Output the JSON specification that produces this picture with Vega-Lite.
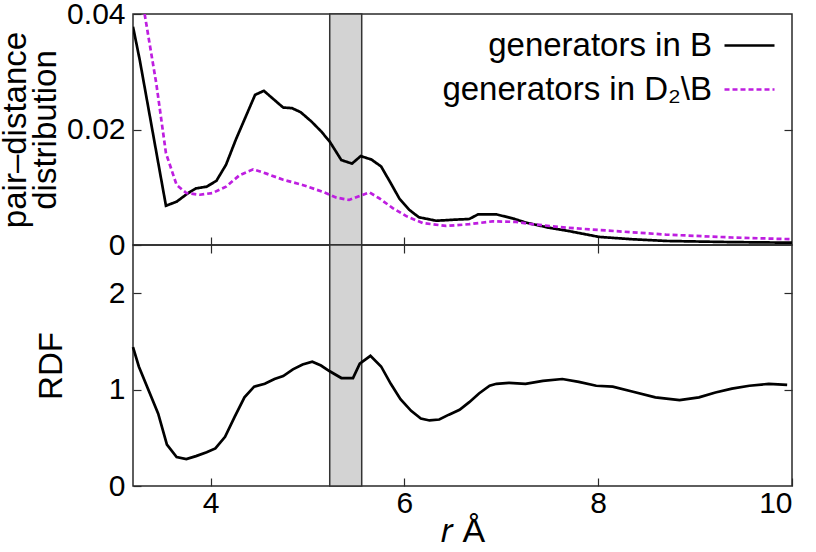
{
  "$schema": "https://vega.github.io/schema/vega-lite/v6.json",
  "padding": {"left": -2, "top": -2, "right": 10, "bottom": 0},
  "background": "white",
  "spacing": 0,
  "bounds": "flush",
  "config": {
    "font": "Liberation Sans",
    "view": {"stroke": "#2a2a2a", "strokeWidth": 1.5},
    "axis": {"grid": false, "domain": false, "tickColor": "#2a2a2a", "tickWidth": 1.2, "labelColor": "black", "titleColor": "black", "labelFontWeight": "normal", "titleFontWeight": "normal"}
  },
  "datasets": {
    "band": [{"r0": 5.23, "r1": 5.56}],
    "pdd": [
      {"r": 3.2, "value": 0.0378, "series": "generators in B"},
      {"r": 3.27, "value": 0.032, "series": "generators in B"},
      {"r": 3.54, "value": 0.0068, "series": "generators in B"},
      {"r": 3.65, "value": 0.0075, "series": "generators in B"},
      {"r": 3.77, "value": 0.0090, "series": "generators in B"},
      {"r": 3.85, "value": 0.0098, "series": "generators in B"},
      {"r": 3.96, "value": 0.0101, "series": "generators in B"},
      {"r": 4.06, "value": 0.0111, "series": "generators in B"},
      {"r": 4.16, "value": 0.0139, "series": "generators in B"},
      {"r": 4.26, "value": 0.0182, "series": "generators in B"},
      {"r": 4.37, "value": 0.0225, "series": "generators in B"},
      {"r": 4.46, "value": 0.0260, "series": "generators in B"},
      {"r": 4.55, "value": 0.0267, "series": "generators in B"},
      {"r": 4.66, "value": 0.0251, "series": "generators in B"},
      {"r": 4.75, "value": 0.0238, "series": "generators in B"},
      {"r": 4.84, "value": 0.0237, "series": "generators in B"},
      {"r": 4.93, "value": 0.0230, "series": "generators in B"},
      {"r": 5.04, "value": 0.0214, "series": "generators in B"},
      {"r": 5.14, "value": 0.0197, "series": "generators in B"},
      {"r": 5.23, "value": 0.0179, "series": "generators in B"},
      {"r": 5.35, "value": 0.0147, "series": "generators in B"},
      {"r": 5.46, "value": 0.0141, "series": "generators in B"},
      {"r": 5.55, "value": 0.0154, "series": "generators in B"},
      {"r": 5.66, "value": 0.0148, "series": "generators in B"},
      {"r": 5.76, "value": 0.0136, "series": "generators in B"},
      {"r": 5.86, "value": 0.0107, "series": "generators in B"},
      {"r": 5.95, "value": 0.0080, "series": "generators in B"},
      {"r": 6.05, "value": 0.0061, "series": "generators in B"},
      {"r": 6.15, "value": 0.0048, "series": "generators in B"},
      {"r": 6.33, "value": 0.0042, "series": "generators in B"},
      {"r": 6.53, "value": 0.0044, "series": "generators in B"},
      {"r": 6.67, "value": 0.0045, "series": "generators in B"},
      {"r": 6.76, "value": 0.0053, "series": "generators in B"},
      {"r": 6.95, "value": 0.0053, "series": "generators in B"},
      {"r": 7.12, "value": 0.0046, "series": "generators in B"},
      {"r": 7.25, "value": 0.0039, "series": "generators in B"},
      {"r": 7.49, "value": 0.0030, "series": "generators in B"},
      {"r": 7.70, "value": 0.0024, "series": "generators in B"},
      {"r": 8.01, "value": 0.0014, "series": "generators in B"},
      {"r": 8.35, "value": 0.0010, "series": "generators in B"},
      {"r": 8.70, "value": 0.0007, "series": "generators in B"},
      {"r": 9.04, "value": 0.0006, "series": "generators in B"},
      {"r": 9.38, "value": 0.0005, "series": "generators in B"},
      {"r": 10.0, "value": 0.0004, "series": "generators in B"},
      {"r": 3.32, "value": 0.040, "series": "generators in D₂\\B"},
      {"r": 3.44, "value": 0.0280, "series": "generators in D₂\\B"},
      {"r": 3.54, "value": 0.0159, "series": "generators in D₂\\B"},
      {"r": 3.65, "value": 0.0104, "series": "generators in D₂\\B"},
      {"r": 3.75, "value": 0.0090, "series": "generators in D₂\\B"},
      {"r": 3.89, "value": 0.0087, "series": "generators in D₂\\B"},
      {"r": 4.02, "value": 0.0090, "series": "generators in D₂\\B"},
      {"r": 4.16, "value": 0.0101, "series": "generators in D₂\\B"},
      {"r": 4.30, "value": 0.0121, "series": "generators in D₂\\B"},
      {"r": 4.44, "value": 0.0131, "series": "generators in D₂\\B"},
      {"r": 4.57, "value": 0.0124, "series": "generators in D₂\\B"},
      {"r": 4.75, "value": 0.0113, "series": "generators in D₂\\B"},
      {"r": 4.95, "value": 0.0104, "series": "generators in D₂\\B"},
      {"r": 5.16, "value": 0.0092, "series": "generators in D₂\\B"},
      {"r": 5.30, "value": 0.0082, "series": "generators in D₂\\B"},
      {"r": 5.43, "value": 0.0078, "series": "generators in D₂\\B"},
      {"r": 5.54, "value": 0.0085, "series": "generators in D₂\\B"},
      {"r": 5.64, "value": 0.0091, "series": "generators in D₂\\B"},
      {"r": 5.74, "value": 0.0081, "series": "generators in D₂\\B"},
      {"r": 5.88, "value": 0.0064, "series": "generators in D₂\\B"},
      {"r": 6.02, "value": 0.0050, "series": "generators in D₂\\B"},
      {"r": 6.19, "value": 0.0038, "series": "generators in D₂\\B"},
      {"r": 6.43, "value": 0.0033, "series": "generators in D₂\\B"},
      {"r": 6.67, "value": 0.0036, "series": "generators in D₂\\B"},
      {"r": 6.91, "value": 0.0041, "series": "generators in D₂\\B"},
      {"r": 7.15, "value": 0.0040, "series": "generators in D₂\\B"},
      {"r": 7.32, "value": 0.0036, "series": "generators in D₂\\B"},
      {"r": 7.67, "value": 0.0030, "series": "generators in D₂\\B"},
      {"r": 8.01, "value": 0.0026, "series": "generators in D₂\\B"},
      {"r": 8.70, "value": 0.0018, "series": "generators in D₂\\B"},
      {"r": 9.38, "value": 0.0013, "series": "generators in D₂\\B"},
      {"r": 10.0, "value": 0.0010, "series": "generators in D₂\\B"}
    ],
    "rdf": [
      {"r": 3.2, "value": 1.44}, {"r": 3.26, "value": 1.24}, {"r": 3.46, "value": 0.75},
      {"r": 3.55, "value": 0.43}, {"r": 3.65, "value": 0.30}, {"r": 3.75, "value": 0.28},
      {"r": 3.85, "value": 0.31}, {"r": 3.96, "value": 0.35}, {"r": 4.05, "value": 0.39},
      {"r": 4.15, "value": 0.51}, {"r": 4.25, "value": 0.72}, {"r": 4.35, "value": 0.92},
      {"r": 4.45, "value": 1.03}, {"r": 4.56, "value": 1.06}, {"r": 4.66, "value": 1.11},
      {"r": 4.75, "value": 1.14}, {"r": 4.85, "value": 1.21}, {"r": 4.95, "value": 1.26},
      {"r": 5.05, "value": 1.29}, {"r": 5.14, "value": 1.25}, {"r": 5.23, "value": 1.19},
      {"r": 5.35, "value": 1.12}, {"r": 5.47, "value": 1.12}, {"r": 5.54, "value": 1.27},
      {"r": 5.65, "value": 1.35}, {"r": 5.76, "value": 1.24}, {"r": 5.86, "value": 1.06},
      {"r": 5.96, "value": 0.90}, {"r": 6.07, "value": 0.78}, {"r": 6.17, "value": 0.70},
      {"r": 6.26, "value": 0.68}, {"r": 6.36, "value": 0.69}, {"r": 6.46, "value": 0.74},
      {"r": 6.57, "value": 0.79}, {"r": 6.67, "value": 0.87}, {"r": 6.77, "value": 0.96},
      {"r": 6.88, "value": 1.04}, {"r": 6.95, "value": 1.06}, {"r": 7.08, "value": 1.07},
      {"r": 7.25, "value": 1.06}, {"r": 7.43, "value": 1.09}, {"r": 7.63, "value": 1.11},
      {"r": 7.80, "value": 1.08}, {"r": 7.98, "value": 1.04}, {"r": 8.15, "value": 1.03},
      {"r": 8.35, "value": 0.98}, {"r": 8.59, "value": 0.92}, {"r": 8.84, "value": 0.89},
      {"r": 9.04, "value": 0.92}, {"r": 9.21, "value": 0.97}, {"r": 9.38, "value": 1.01},
      {"r": 9.56, "value": 1.04}, {"r": 9.76, "value": 1.06}, {"r": 9.95, "value": 1.05}
    ]
  },
  "vconcat": [
    {
      "width": 659,
      "height": 231,
      "resolve": {"axis": {"y": "independent"}},
      "layer": [
        {
          "data": {"name": "band"},
          "mark": {"type": "rect", "fill": "#d3d3d3", "stroke": "#333333", "strokeWidth": 1.5},
          "encoding": {
            "x": {"field": "r0", "type": "quantitative", "scale": {"domain": [3.2, 10], "nice": false, "zero": false},
                  "axis": {"orient": "bottom", "values": [4, 6, 8], "labels": false, "tickSize": -8, "title": null}},
            "x2": {"field": "r1"}
          }
        },
        {
          "data": {"name": "pdd"},
          "mark": {"type": "line", "strokeWidth": 2.7, "clip": true},
          "encoding": {
            "x": {"field": "r", "type": "quantitative"},
            "y": {"field": "value", "type": "quantitative", "scale": {"domain": [0, 0.04], "nice": false},
                  "axis": {"orient": "left", "values": [0, 0.02, 0.04], "format": "~g", "tickSize": -8, "labelPadding": 16, "labelFontSize": 30,
                           "title": ["pair–distance", "distribution"], "titleFontSize": 33, "titleLineHeight": 30, "titlePadding": 4}},
            "color": {"field": "series", "type": "nominal",
                      "scale": {"domain": ["generators in B", "generators in D₂\\B"], "range": ["black", "#be1ee0"]},
                      "legend": {"orient": "none", "legendX": 590, "legendY": 5, "title": null, "padding": 0, "labelFontSize": 33, "labelAlign": "right", "labelOffset": -64, "labelLimit": 500,
                                 "symbolType": "stroke", "symbolSize": 2500, "symbolStrokeWidth": 2.7, "rowPadding": -5, "labelColor": "black"}},
            "strokeDash": {"field": "series", "type": "nominal",
                           "scale": {"domain": ["generators in B", "generators in D₂\\B"], "range": [[1, 0], [5, 3]]},
                           "legend": {"orient": "none", "legendX": 590, "legendY": 5, "title": null, "padding": 0, "labelFontSize": 33, "labelAlign": "right", "labelOffset": -64, "labelLimit": 500,
                                      "symbolType": "stroke", "symbolSize": 2500, "symbolStrokeWidth": 2.7, "rowPadding": -5, "labelColor": "black"}}
          }
        },
        {
          "data": {"name": "pdd"},
          "mark": {"type": "line", "opacity": 0},
          "encoding": {
            "x": {"field": "r", "type": "quantitative"},
            "y": {"field": "value", "type": "quantitative",
                  "axis": {"orient": "right", "values": [0.02], "labels": false, "tickSize": -8, "title": null}},
            "detail": {"field": "series"}
          }
        }
      ]
    },
    {
      "width": 659,
      "height": 241,
      "resolve": {"axis": {"x": "independent", "y": "independent"}},
      "layer": [
        {
          "data": {"name": "band"},
          "mark": {"type": "rect", "fill": "#d3d3d3", "stroke": "#333333", "strokeWidth": 1.5},
          "encoding": {
            "x": {"field": "r0", "type": "quantitative", "scale": {"domain": [3.2, 10], "nice": false, "zero": false},
                  "axis": {"orient": "bottom", "values": [4, 6, 8, 10], "tickSize": -8, "labelPadding": 10, "labelFontSize": 30,
                           "title": "𝑟 Å", "titleFontSize": 34, "titlePadding": -4}},
            "x2": {"field": "r1"}
          }
        },
        {
          "data": {"name": "rdf"},
          "mark": {"type": "line", "strokeWidth": 2.7, "color": "black"},
          "encoding": {
            "x": {"field": "r", "type": "quantitative",
                  "axis": {"orient": "top", "values": [4, 6, 8], "labels": false, "tickSize": -8, "title": null}},
            "y": {"field": "value", "type": "quantitative", "scale": {"domain": [0, 2.5], "nice": false},
                  "axis": {"orient": "left", "values": [0, 1, 2], "tickSize": -8, "labelPadding": 16, "labelFontSize": 30,
                           "title": "RDF", "titleFontSize": 33, "titlePadding": 40}}
          }
        },
        {
          "data": {"name": "rdf"},
          "mark": {"type": "line", "opacity": 0},
          "encoding": {
            "x": {"field": "r", "type": "quantitative", "axis": null},
            "y": {"field": "value", "type": "quantitative",
                  "axis": {"orient": "right", "values": [1, 2], "labels": false, "tickSize": -8, "title": null}}
          }
        }
      ]
    }
  ]
}
